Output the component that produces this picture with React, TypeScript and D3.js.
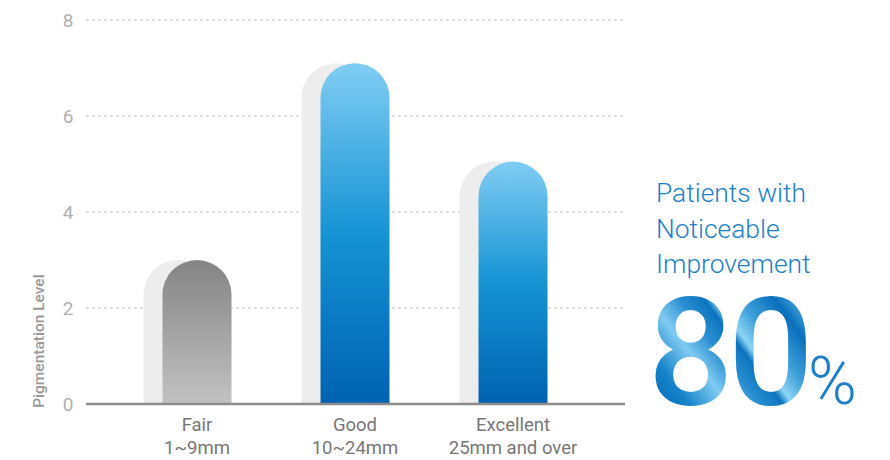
import React from "react";
import * as d3 from "d3";

const categories = ["Fair", "Good", "Excellent"];
const subLabels = ["1~9mm", "10~24mm", "25mm and over"];
const values = [3.0, 7.1, 5.05];
const yTicks = [0, 2, 4, 6, 8];
const headline = ["Patients with", "Noticeable", "Improvement"];
const bigNumber = "80";
const bigUnit = "%";

const W = 890;
const H = 460;
const FONT = "Roboto, 'Noto Sans', sans-serif";

function archPath(x0: number, x1: number, yTop: number, yBase: number) {
  const r = (x1 - x0) / 2;
  const p = d3.path();
  p.moveTo(x0, yBase);
  p.lineTo(x0, yTop + r);
  p.arc(x0 + r, yTop + r, r, Math.PI, 0);
  p.lineTo(x1, yBase);
  p.closePath();
  return p.toString();
}

export default function App() {
  const y = d3.scaleLinear().domain([0, 8]).range([404, 20]);
  const x = d3.scaleBand().domain(categories).range([118, 592]).padding(0);
  const bw = 69;
  const shadowOffset = 19;
  const gx0 = 86;
  const gx1 = 625;

  return (
    <svg width={W} height={H} style={{ position: "absolute", left: 0, top: 0, background: "#fff" }}>
      <defs>
        <linearGradient id="gBlue" x1="0" y1="0" x2="0" y2="1">
          <stop offset="0%" stopColor="#80cdf3" />
          <stop offset="50%" stopColor="#1593d4" />
          <stop offset="100%" stopColor="#0062b1" />
        </linearGradient>
        <linearGradient id="gGray" x1="0" y1="0" x2="0" y2="1">
          <stop offset="0%" stopColor="#848484" />
          <stop offset="100%" stopColor="#c2c2c2" />
        </linearGradient>
        <linearGradient id="gBig" gradientUnits="userSpaceOnUse" x1="650" y1="400" x2="810" y2="280">
          <stop offset="0%" stopColor="#0a6cb8" />
          <stop offset="14%" stopColor="#1482c9" />
          <stop offset="30%" stopColor="#7fcbf1" />
          <stop offset="42%" stopColor="#2a8fd1" />
          <stop offset="52%" stopColor="#0c74bf" />
          <stop offset="56%" stopColor="#8cd4f5" />
          <stop offset="66%" stopColor="#3ea0da" />
          <stop offset="80%" stopColor="#0a70bb" />
          <stop offset="90%" stopColor="#4aa8de" />
          <stop offset="100%" stopColor="#0a6cb8" />
        </linearGradient>
      </defs>

      {/* grid lines */}
      {yTicks.filter((t) => t > 0).map((t) => (
        <line key={t} x1={gx0} x2={gx1} y1={y(t)} y2={y(t)} stroke="#bdbdbd" strokeWidth={1} strokeDasharray="3,3" />
      ))}

      {/* y tick labels */}
      {yTicks.map((t) => (
        <text key={t} x={68} y={y(t)} dy="0.36em" textAnchor="middle" fontFamily={FONT} fontSize={19} fill="#b0b0b0">
          {t}
        </text>
      ))}

      {/* y axis title */}
      <text
        transform={`translate(44, ${y(1.31)}) rotate(-90)`}
        textAnchor="middle"
        fontFamily={FONT}
        fontSize={15.5}
        fontWeight={500}
        fill="#999"
      >
        Pigmentation Level
      </text>

      {/* shadow bars */}
      {categories.map((c, i) => {
        const cx = (x(c) as number) + x.bandwidth() / 2;
        const x0 = cx - bw / 2 - shadowOffset;
        return <path key={"s" + c} d={archPath(x0, x0 + bw, y(values[i]), y(0))} fill="#ededed" />;
      })}

      {/* main bars */}
      {categories.map((c, i) => {
        const cx = (x(c) as number) + x.bandwidth() / 2;
        const x0 = cx - bw / 2;
        return (
          <path
            key={"b" + c}
            d={archPath(x0, x0 + bw, y(values[i]), y(0))}
            fill={i === 0 ? "url(#gGray)" : "url(#gBlue)"}
          />
        );
      })}

      {/* baseline */}
      <line x1={gx0} x2={gx1} y1={y(0)} y2={y(0)} stroke="#8c8c8c" strokeWidth={2.5} />

      {/* x labels */}
      {categories.map((c, i) => {
        const cx = (x(c) as number) + x.bandwidth() / 2;
        return (
          <g key={"l" + c}>
            <text x={cx} y={431} textAnchor="middle" fontFamily={FONT} fontSize={18.5} fill="#777">
              {c}
            </text>
            <text x={cx} y={454} textAnchor="middle" fontFamily={FONT} fontSize={18.5} fill="#777">
              {subLabels[i]}
            </text>
          </g>
        );
      })}

      {/* headline */}
      {headline.map((t, i) => (
        <text key={t} x={656} y={202 + i * 35.5} fontFamily={FONT} fontWeight={300} fontSize={26.4} fill="#1d7fc8">
          {t}
        </text>
      ))}

      <text x={648} y={405} fontFamily={FONT} fontSize={150} fontWeight={500} fill="url(#gBig)" letterSpacing={-5}>
        {bigNumber}
      </text>
      <text x={808} y={404} fontFamily={FONT} fontSize={66} fontWeight={300} fill="#1d7fc8">
        {bigUnit}
      </text>
    </svg>
  );
}
